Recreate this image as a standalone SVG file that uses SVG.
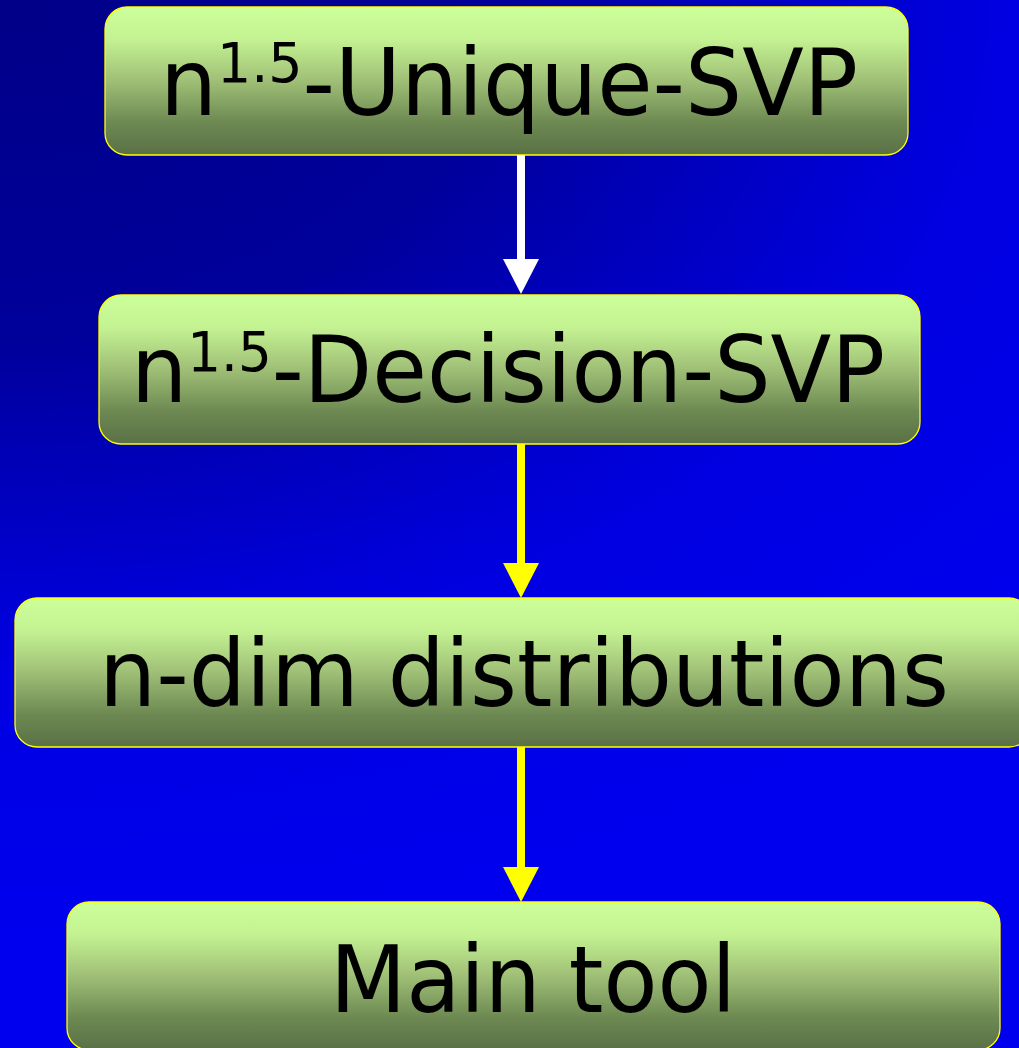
<svg xmlns="http://www.w3.org/2000/svg" width="1019" height="1048" viewBox="0 0 1019 1048">
  <defs>
    <!-- elliptical glow spreading from the top-left corner, faster downwards -->
    <radialGradient id="bg" gradientUnits="userSpaceOnUse" cx="0" cy="0" r="1400" gradientTransform="scale(1 0.667)">
      <stop offset="0" stop-color="#000088"/>
      <stop offset="0.16" stop-color="#000090"/>
      <stop offset="0.37" stop-color="#00009c"/>
      <stop offset="0.48" stop-color="#0000b4"/>
      <stop offset="0.64" stop-color="#0000d4"/>
      <stop offset="0.72" stop-color="#0000e2"/>
      <stop offset="1" stop-color="#0000ee"/>
    </radialGradient>
    <linearGradient id="boxFill" x1="0" y1="0" x2="0" y2="1">
      <stop offset="0" stop-color="#ccff99"/>
      <stop offset="0.22" stop-color="#c4f292"/>
      <stop offset="0.5" stop-color="#9fbf76"/>
      <stop offset="0.78" stop-color="#6d8952"/>
      <stop offset="1" stop-color="#5a7046"/>
    </linearGradient>
    <marker id="headWhite" viewBox="0 0 35 36" markerWidth="35" markerHeight="36" refX="0" refY="18" orient="auto" markerUnits="userSpaceOnUse">
      <path d="M0,0 L35,18 L0,36 Z" fill="#ffffff"/>
    </marker>
    <marker id="headYellow" viewBox="0 0 35 36" markerWidth="35" markerHeight="36" refX="0" refY="18" orient="auto" markerUnits="userSpaceOnUse">
      <path d="M0,0 L35,18 L0,36 Z" fill="#ffff00"/>
    </marker>
    <style>
      .box { fill: url(#boxFill); stroke: #ffff00; stroke-width: 1.3; }
      .label { font-family: "DejaVu Sans", "Liberation Sans", sans-serif; font-size: 92px; fill: #000000; text-anchor: middle; }
      .sup { font-size: 55px; }
      .edge { stroke-width: 8; fill: none; }
      .white { stroke: #ffffff; marker-end: url(#headWhite); }
      .yellow { stroke: #ffff00; marker-end: url(#headYellow); }
    </style>
  </defs>

  <rect x="0" y="0" width="1019" height="1048" fill="url(#bg)"/>

  <g id="unique-svp">
    <rect class="box" x="105" y="7" width="803" height="148" rx="22" ry="22"/>
    <text class="label" x="509" y="115" textLength="698" lengthAdjust="spacingAndGlyphs">n<tspan class="sup" dy="-33">1.5</tspan><tspan dy="33">-Unique-SVP</tspan></text>
  </g>

  <g id="decision-svp">
    <rect class="box" x="99" y="295" width="821" height="149" rx="22" ry="22"/>
    <text class="label" x="508" y="402" textLength="754" lengthAdjust="spacingAndGlyphs">n<tspan class="sup" dy="-31">1.5</tspan><tspan dy="31">-Decision-SVP</tspan></text>
  </g>

  <g id="n-dim-distributions">
    <rect class="box" x="15" y="598" width="1016" height="149" rx="22" ry="22"/>
    <text class="label" x="524" y="706" textLength="850" lengthAdjust="spacingAndGlyphs">n-dim distributions</text>
  </g>

  <g id="main-tool">
    <rect class="box" x="67" y="902" width="933" height="148" rx="22" ry="22"/>
    <text class="label" x="533" y="1012" textLength="406" lengthAdjust="spacingAndGlyphs">Main tool</text>
  </g>

  <g id="connectors">
    <line class="edge white" x1="521" y1="155" x2="521" y2="259"/>
    <line class="edge yellow" x1="521" y1="444" x2="521" y2="563"/>
    <line class="edge yellow" x1="521" y1="747" x2="521" y2="867"/>
  </g>
</svg>
